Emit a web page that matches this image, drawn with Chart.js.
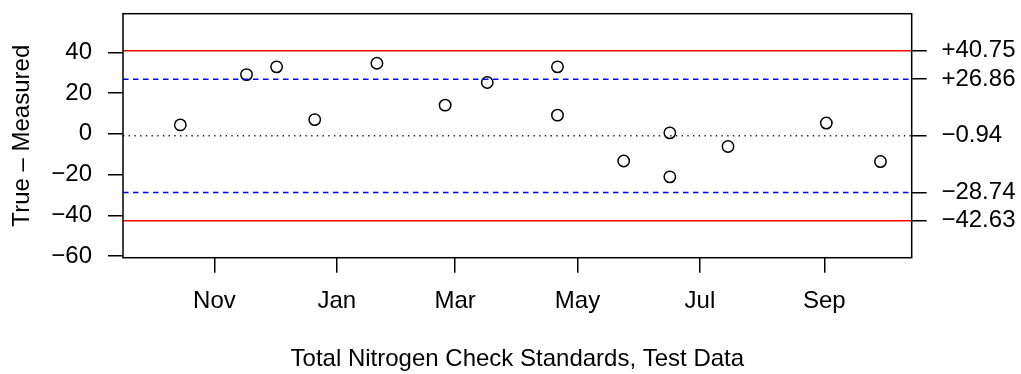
<!DOCTYPE html>
<html>
<head>
<meta charset="utf-8">
<script src="https://cdn.jsdelivr.net/npm/chart.js@4.4.1/dist/chart.umd.min.js"></script>
<style>
  html, body { margin: 0; padding: 0; background: #fff; }
  canvas { display: block; }
</style>
</head>
<body>
<canvas id="qcChart" width="1021" height="374"></canvas>
<script>
// check standard runs: date and (true - measured)
var sampleDates = ["2018-10-15", "2018-11-17", "2018-12-02", "2018-12-21", "2019-01-21",
                   "2019-02-24", "2019-03-17", "2019-04-21", "2019-04-21", "2019-05-24",
                   "2019-06-16", "2019-06-16", "2019-07-15", "2019-09-02", "2019-09-29"];
var differences = [4.4, 29.1, 32.9, 7.0, 34.7,
                   14.1, 25.2, 32.9, 9.2, -13.3,
                   0.5, -21.1, -6.2, 5.3, -13.6];

var monthTicks = ["2018-11-01", "2019-01-01", "2019-03-01", "2019-05-01", "2019-07-01", "2019-09-01"];
var monthLabels = ["Nov", "Jan", "Mar", "May", "Jul", "Sep"];

var yTicks = [-60, -40, -20, 0, 20, 40];

// control limits: +3s, +2s, centre, -2s, -3s
var limitValues = [40.75, 26.86, -0.94, -28.74, -42.63];
var limitLabels = ["+40.75", "+26.86", "\u22120.94", "\u221228.74", "\u221242.63"];

var origin = Date.parse("2018-11-01");
function toDay(s) { return (Date.parse(s) - origin) / 864e5; }

// x range like R: Oct 1 .. Sep 30 plus 4%
var xLo = toDay("2018-10-01"), xHi = toDay("2019-09-30");
var xPad = (xHi - xLo) * 0.04;
var yMin = -60.8, yMax = 59.0;

var FONT = { family: "'Liberation Sans', Arial, sans-serif", size: 24 };

function limitStyle(i) {
  if (i === 0 || i === 4) return { color: "#ff0000", dash: [] };
  if (i === 1 || i === 3) return { color: "#0000ff", dash: [5.5, 4.5] };
  return { color: "#222222", dash: [1.4, 4.3] };
}

var datasets = [];
limitValues.forEach(function (v, i) {
  var st = limitStyle(i);
  datasets.push({
    type: 'line',
    data: [{ x: xLo - xPad, y: v }, { x: xHi + xPad, y: v }],
    borderColor: st.color,
    borderDash: st.dash,
    borderWidth: 1.5,
    pointRadius: 0,
    fill: false
  });
});
datasets.push({
  type: 'scatter',
  data: sampleDates.map(function (d, i) { return { x: toDay(d), y: differences[i] }; }),
  pointStyle: 'circle',
  pointRadius: 5.7,
  borderWidth: 1.5,
  borderColor: '#000',
  backgroundColor: 'rgba(0,0,0,0)'
});

var tickGrid = { drawOnChartArea: false, drawTicks: true, tickLength: 15, color: '#000', lineWidth: 1.5 };

function fixVertical(w) {
  return function (s) { s.width = w; s.paddingTop = 0; s.paddingBottom = 0; };
}

var boxPlugin = {
  id: 'box',
  afterDraw: function (chart) {
    var a = chart.chartArea, c = chart.ctx;
    c.save();
    c.strokeStyle = '#000';
    c.lineWidth = 1.5;
    c.strokeRect(a.left, a.top, a.right - a.left, a.bottom - a.top);
    c.restore();
  }
};

new Chart(document.getElementById('qcChart'), {
  type: 'scatter',
  data: { datasets: datasets },
  plugins: [boxPlugin],
  options: {
    responsive: false,
    animation: false,
    devicePixelRatio: 1,
    layout: { padding: { top: 13.7, left: 0, right: 0, bottom: 0 } },
    plugins: { legend: { display: false }, tooltip: { enabled: false } },
    scales: {
      x: {
        type: 'linear',
        position: 'bottom',
        min: xLo - xPad,
        max: xHi + xPad,
        afterBuildTicks: function (s) { s.ticks = monthTicks.map(function (d) { return { value: toDay(d) }; }); },
        afterFit: function (s) { s.height = 116.3; s.paddingLeft = 0; s.paddingRight = 0; },
        ticks: {
          callback: function (v, i) { return monthLabels[i]; },
          font: FONT, color: '#000', padding: 14, maxRotation: 0, autoSkip: false
        },
        grid: tickGrid,
        border: { display: false },
        title: { display: true, text: 'Total Nitrogen Check Standards, Test Data', font: FONT, color: '#000', padding: { top: 0, bottom: 0 } }
      },
      y: {
        type: 'linear',
        position: 'left',
        min: yMin,
        max: yMax,
        afterBuildTicks: function (s) { s.ticks = yTicks.map(function (v) { return { value: v }; }); },
        afterFit: fixVertical(123),
        ticks: {
          callback: function (v) { return String(v).replace('-', '\u2212'); },
          font: FONT, color: '#000', padding: 16, autoSkip: false
        },
        grid: tickGrid,
        border: { display: false },
        title: { display: true, text: 'True \u2013 Measured', font: FONT, color: '#000', padding: { top: 7.6, bottom: 0 } }
      },
      y2: {
        type: 'linear',
        position: 'right',
        min: yMin,
        max: yMax,
        afterBuildTicks: function (s) { s.ticks = limitValues.map(function (v) { return { value: v }; }); },
        afterFit: fixVertical(1021 - 911.7),
        ticks: {
          callback: function (v, i) { return limitLabels[i]; },
          font: FONT, color: '#000', padding: 14.7, autoSkip: false
        },
        grid: tickGrid,
        border: { display: false }
      }
    }
  }
});
</script>
</body>
</html>
